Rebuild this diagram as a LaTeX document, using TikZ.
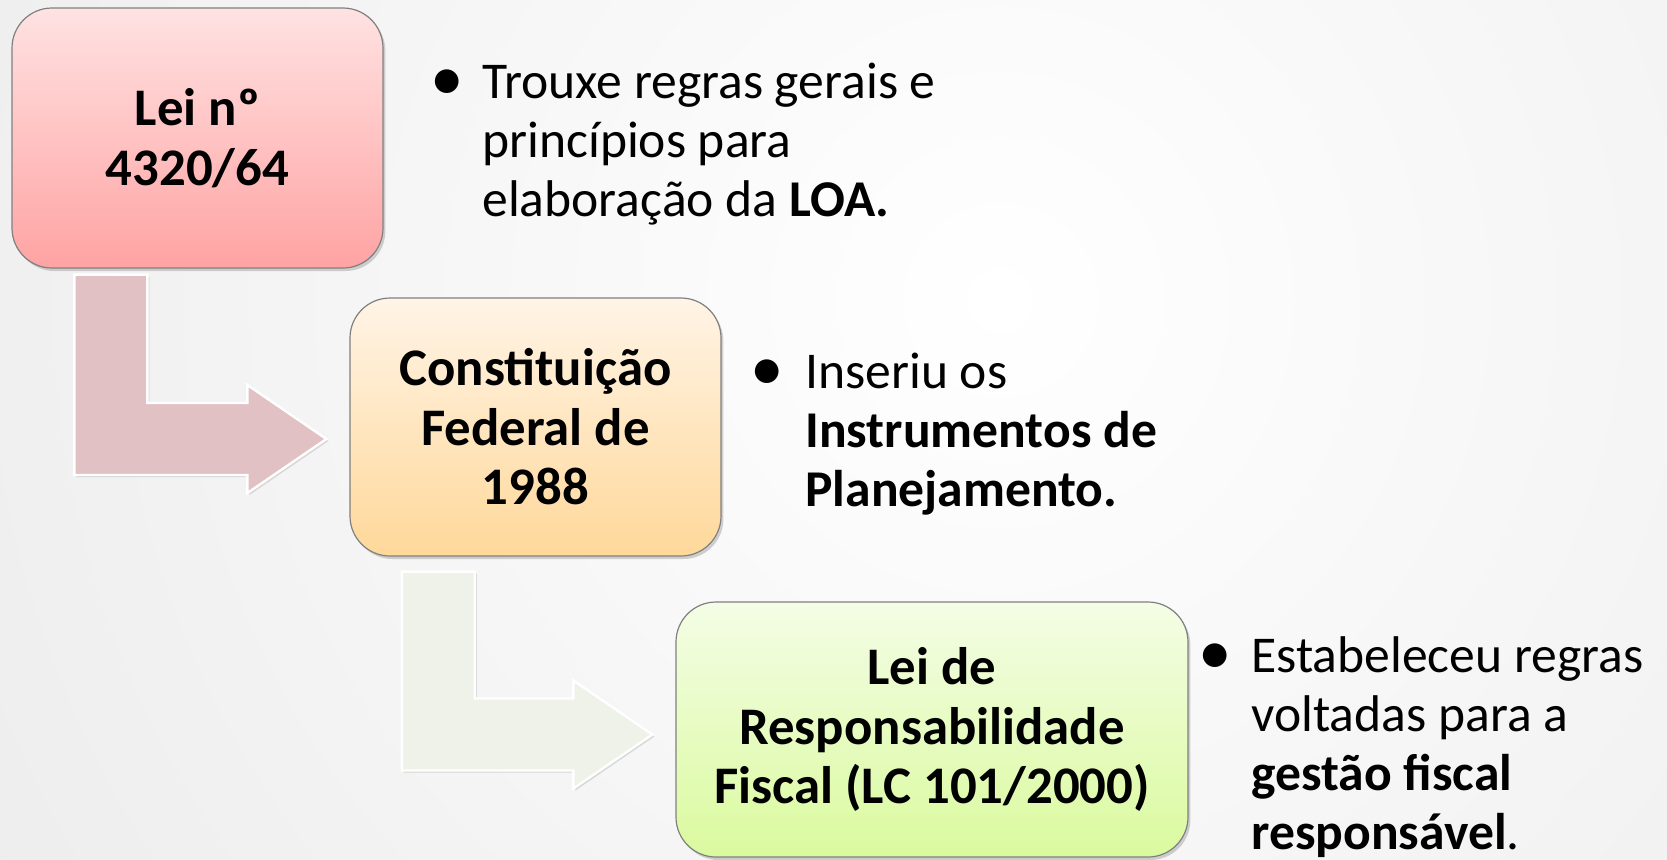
\documentclass[tikz,border=0pt]{standalone}
\usepackage{fontspec}
\setmainfont{Carlito}
\usetikzlibrary{calc,shadows}

\definecolor{redtop}{RGB}{255,226,226}
\definecolor{redbot}{RGB}{255,163,163}
\definecolor{orgtop}{RGB}{255,244,230}
\definecolor{orgbot}{RGB}{255,216,154}
\definecolor{grntop}{RGB}{244,253,230}
\definecolor{grnbot}{RGB}{218,250,158}
\definecolor{redarr}{RGB}{226,193,196}
\definecolor{grnarr}{RGB}{238,242,233}
\definecolor{boxline}{RGB}{128,128,128}

\newcommand{\lines}[1]{\begin{tabular}[t]{@{}l@{}}#1\end{tabular}}
\newcommand{\bigdot}{\raisebox{-1pt}{\scalebox{1.3}{\textbullet}}}
\newcommand{\bentarrow}[3]{\filldraw[anode, fill=#1] let \p1=(#2), \p2=(#3) in
    (\x1-18.25pt,\y1) -- (\x1+18.25pt,\y1) -- (\x1+18.25pt,\y2+18pt)
    -- (\x2-39.5pt,\y2+18pt) -- (\x2-39.5pt,\y2+27pt) -- (\x2,\y2)
    -- (\x2-39.5pt,\y2-27pt) -- (\x2-39.5pt,\y2-18pt) -- (\x1-18.25pt,\y2-18pt) -- cycle;}

\begin{document}
\begin{tikzpicture}[x=0.5pt, y=-0.5pt,
    lnode/.style={draw=boxline, line width=0.6pt, rounded corners=20pt, minimum width=185.5pt, inner sep=0pt, align=center, font=\fontsize{26.4}{29.75}\selectfont\bfseries, drop shadow={opacity=0.35, shadow xshift=1.2pt, shadow yshift=-1.5pt}},
    tnode/.style={anchor=base west, inner sep=0pt, font=\fontsize{25.8}{29.5}\selectfont},
    dnode/.style={anchor=base, inner sep=0pt, font=\fontsize{25.8}{29.5}\selectfont},
    anode/.style={draw=white, line width=1.2pt, drop shadow={opacity=0.25, shadow xshift=1pt, shadow yshift=-1pt}}]
    \useasboundingbox (0,0) rectangle (1667,859);
    \begin{scope}
        \clip (0,0) rectangle (1667,859);
        \shade[inner color=white, outer color=black!12] (-1000,-1700) rectangle (3000,2300);
    \end{scope}

    \node[lnode, minimum height=130pt, top color=redtop, bottom color=redbot] (1) at (197.5,138) {Lei nº\\4320/64};
    \node[lnode, minimum height=129pt, top color=orgtop, bottom color=orgbot] (2) at (535.5,427) {Constituição\\Federal de\\1988};
    \node[lnode, minimum width=256pt, minimum height=127.5pt, top color=grntop, bottom color=grnbot] (3) at (932,729.5) {Lei de\\Responsabilidade\\Fiscal (LC 101/2000)};

    \coordinate (1a) at ([xshift=49.75pt,yshift=-3pt]1.south west);
    \coordinate (1b) at ([xshift=-11.5pt,yshift=-6pt]2.west);
    \coordinate (2a) at ([xshift=44.5pt,yshift=-7.5pt]2.south west);
    \coordinate (2b) at ([xshift=-11.5pt,yshift=-2.5pt]3.west);
    \bentarrow{redarr}{1a}{1b}
    \bentarrow{grnarr}{2a}{2b}

    \node[dnode] (1d) at (447,98) {\bigdot};
    \node[tnode] (1t) at (482,98) {\lines{Trouxe regras gerais e\\princípios para\\elaboração da \textbf{LOA.}}};
    \node[dnode] (2d) at (767,388) {\bigdot};
    \node[tnode] (2t) at (805,388) {\lines{Inseriu os\\\textbf{Instrumentos de}\\\textbf{Planejamento.}}};
    \node[dnode] (3d) at (1215,672) {\bigdot};
    \node[tnode] (3t) at (1251,672) {\lines{Estabeleceu regras\\voltadas para a\\\textbf{gestão fiscal}\\\textbf{responsável}.}};
\end{tikzpicture}
\end{document}
